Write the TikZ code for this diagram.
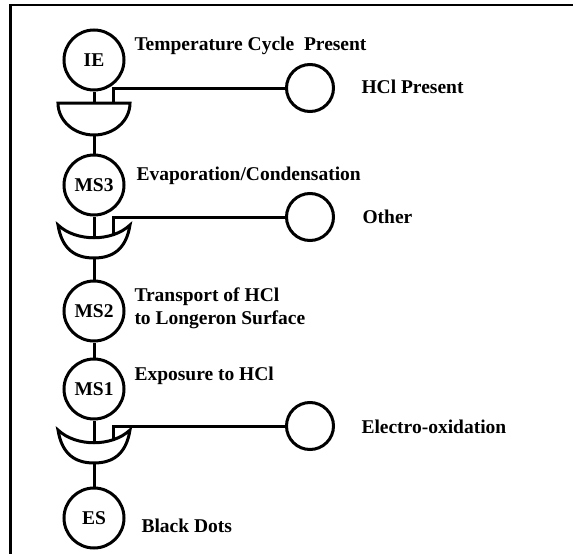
\documentclass[tikz,border=0pt]{standalone}
\usepackage{fontspec}
\setmainfont{Liberation Serif}
\newcommand\treefont{\fontsize{19.5}{22}\selectfont\bfseries}
\begin{document}
\begin{tikzpicture}[x=1pt,y=-1pt,line width=3pt,
  event/.style={circle,draw,minimum size=60pt,inner sep=0pt,font=\treefont},
  side/.style={circle,draw,minimum size=47pt,inner sep=0pt},
  lbl/.style={anchor=base west,inner sep=0pt,font=\treefont}]
\useasboundingbox (0,0) rectangle (573,554);

% frame
\draw[line width=2.2pt] (10.5,554) -- (10.5,5) -- (573,5);

% events along the main chain
\node[event] (ie)  at (94,60)  {IE};
\node[event] (ms3) at (94,185) {MS3};
\node[event] (ms2) at (94,311) {MS2};
\node[event] (ms1) at (94,389) {MS1};
\node[event] (es)  at (94,518) {ES};

% side conditions
\node[side] (s1) at (310,88)  {};
\node[side] (s2) at (310,217) {};
\node[side] (s3) at (310,426) {};

% AND gate
\draw (58,103) -- (130,103) .. controls (130,120.7) and (113.9,135) .. (94,135)
      .. controls (74.1,135) and (58,120.7) .. (58,103) -- cycle;
\coordinate (g1in) at (94,103);
\coordinate (g1out) at (94,135);
\coordinate (g1side) at (113,103);

% OR gates
\foreach \t/\n in {225/2,430/3}{
  \draw (58,\t) .. controls (62,\t+25) and (76,\t+33) .. (94,\t+33)
        .. controls (112,\t+33) and (126,\t+25) .. (130,\t)
        .. controls (112,\t+17) and (76,\t+17) .. (58,\t) -- cycle;
  \coordinate (g\n in) at (94,\t+12.75);
  \coordinate (g\n out) at (94,\t+33);
  \coordinate (g\n side) at (113,\t+9.5);
}

% main chain connectors
\draw (ie) -- (g1in);
\draw (g1out) -- (ms3);
\draw (ms3) -- (g2in);
\draw (g2out) -- (ms2);
\draw (ms2) -- (ms1);
\draw (ms1) -- (g3in);
\draw (g3out) -- (es);

% side connectors
\draw (g1side) |- (s1);
\draw (g2side) |- (s2);
\draw (g3side) |- (s3);

% labels
\node[lbl] (t1) at (133,50)  {Temperature Cycle\ \ Present};
\node[lbl] (t2) at (360,93)  {HCl Present};
\node[lbl] (t3) at (135,180) {Evaporation/Condensation};
\node[lbl] (t4) at (361,223) {Other};
\node[lbl] (t5) at (133,301) {Transport of HCl};
\node[lbl] (t6) at (133,324) {to Longeron Surface};
\node[lbl] (t7) at (133,380) {Exposure to HCl};
\node[lbl] (t8) at (360,433) {Electro-oxidation};
\node[lbl] (t9) at (140,532) {Black Dots};
\end{tikzpicture}
\end{document}
